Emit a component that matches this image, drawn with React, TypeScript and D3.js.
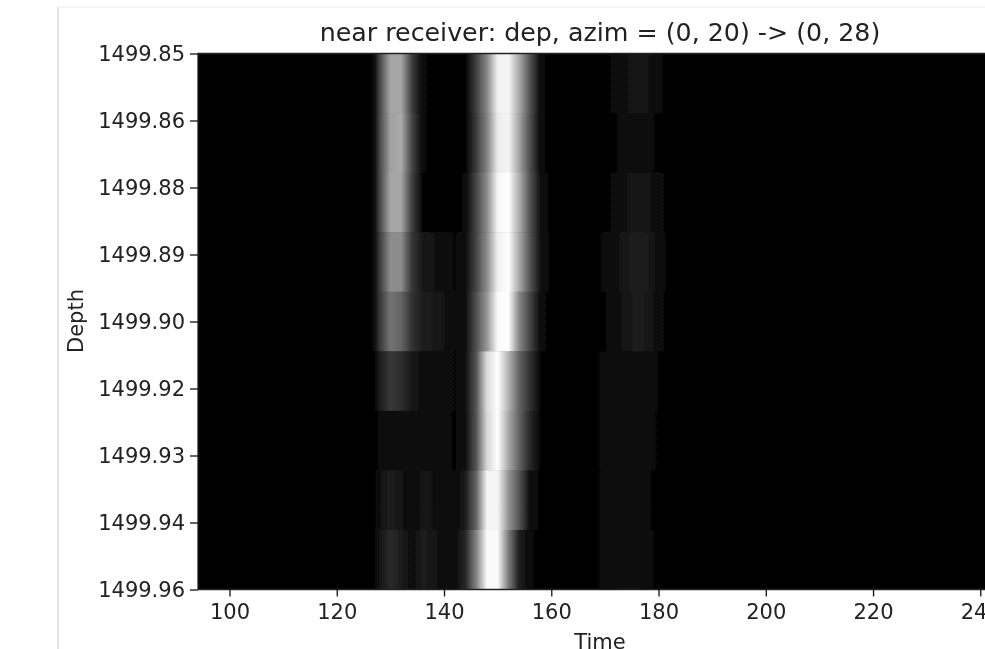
import React, { useEffect, useRef } from 'react'
import * as d3 from 'd3'

const titleText = 'near receiver: dep, azim = (0, 20) -> (0, 28)'
const depthLabels = ['1499.85', '1499.86', '1499.88', '1499.89', '1499.90', '1499.92', '1499.93', '1499.94', '1499.96']
const timeTicks = [100, 120, 140, 160, 180, 200, 220, 240]
const times = [124, 126, 127, 128, 130, 132, 134, 136, 138, 140, 142, 144, 146, 148, 150, 152, 154, 156, 158, 160, 162, 164, 166, 168, 170, 172, 174, 176, 178, 180, 182, 184]

// gray level of each depth row, one value per entry of times
const row0 = [0, 0, 10, 70, 165, 165, 65, 8, 4, 3, 2, 6, 65, 135, 240, 245, 170, 85, 10, 2, 1, 1, 1, 2, 4, 9, 17, 20, 18, 9, 2, 0]
const row1 = [0, 0, 10, 70, 160, 170, 70, 8, 3, 2, 2, 5, 60, 130, 235, 245, 165, 80, 10, 2, 1, 1, 1, 1, 3, 6, 9, 10, 9, 5, 1, 0]
const row2 = [0, 0, 10, 70, 165, 165, 65, 6, 2, 2, 3, 8, 70, 140, 245, 255, 175, 85, 15, 3, 1, 1, 1, 2, 4, 9, 17, 22, 20, 11, 2, 0]
const row3 = [0, 0, 10, 60, 140, 140, 55, 25, 18, 12, 6, 14, 70, 140, 240, 255, 170, 85, 18, 4, 2, 2, 2, 4, 8, 14, 24, 30, 26, 13, 3, 0]
const row4 = [0, 0, 10, 55, 115, 100, 50, 28, 25, 18, 8, 14, 80, 150, 250, 255, 135, 70, 10, 3, 2, 2, 2, 4, 6, 11, 22, 28, 24, 11, 2, 0]
const row5 = [0, 0, 5, 28, 55, 45, 25, 12, 10, 14, 6, 18, 85, 220, 255, 180, 100, 50, 6, 4, 4, 4, 4, 5, 8, 12, 16, 17, 14, 6, 1, 0]
const row6 = [0, 0, 3, 8, 10, 10, 15, 15, 14, 11, 5, 16, 85, 215, 255, 170, 100, 40, 5, 4, 4, 4, 4, 5, 8, 12, 16, 15, 11, 5, 1, 0]
const row7 = [0, 0, 4, 16, 30, 20, 8, 20, 17, 9, 8, 28, 100, 245, 245, 150, 85, 15, 4, 4, 4, 4, 4, 5, 8, 10, 13, 12, 8, 3, 1, 0]
const row8 = [0, 0, 5, 20, 42, 28, 12, 28, 22, 10, 10, 40, 130, 250, 250, 125, 30, 8, 4, 4, 4, 4, 4, 5, 8, 12, 16, 15, 10, 4, 1, 0]
const rows = [row0, row1, row2, row3, row4, row5, row6, row7, row8]

const left = 198
const top = 53.5
const bottom = 589.5
const fontFamily = '"DejaVu Sans"'

export default function App() {
  const root = useRef<SVGGElement>(null)

  // pixel scale
  const x = d3.scaleLinear().domain([100, 240]).range([229.5, 980.3])
  const yBand = d3.scaleBand<number>().domain(d3.range(rows.length)).range([top, bottom])
  const yTick = d3.scalePoint<string>().domain(depthLabels).range([top, bottom])
  const gray = (v: number) => d3.rgb(v, v, v).formatHex()
  const t0 = times[0]
  const tN = times[times.length - 1]

  useEffect(() => {
    const g = d3.select(root.current)
    g.selectAll('.axis').remove()

    const xAxis = g.append('g')
      .attr('class', 'axis')
      .attr('transform', `translate(0, ${bottom})`)
      .call(d3.axisBottom(x).tickValues(timeTicks).tickSize(7).tickPadding(8))
    const yAxis = g.append('g')
      .attr('class', 'axis')
      .attr('transform', `translate(${left}, 0)`)
      .call(d3.axisLeft(yTick).tickSize(8).tickPadding(5))

    xAxis.select('.domain').remove()
    yAxis.select('.domain').remove()
    g.selectAll('.axis text')
      .attr('font-family', fontFamily)
      .attr('font-size', 21)
      .attr('fill', '#222')
    g.selectAll('.axis line').attr('stroke', '#111').attr('stroke-width', 1.3)
  }, [])

  return (
    <svg width={985} height={649} style={{ position: 'fixed', left: 0, top: 0, background: '#fff' }}>
      <defs>
        <filter id="soft" filterUnits="userSpaceOnUse" x={0} y={0} width={985} height={649}>
          <feGaussianBlur stdDeviation={0.6} />
        </filter>
        {rows.map((row, i) => (
          <linearGradient key={i} id={`row-${i}`} gradientUnits="userSpaceOnUse" x1={x(t0)} x2={x(tN)} y1={0} y2={0}>
            {row.map((v, j) => (
              <stop key={j} offset={(times[j] - t0) / (tN - t0)} stopColor={gray(v)} />
            ))}
          </linearGradient>
        ))}
      </defs>
      <g ref={root} filter="url(#soft)">
        <rect x={0} y={0} width={985} height={649} fill="#fff" />
        {/* notebook frame */}
        <line x1={58} x2={58} y1={7} y2={649} stroke="#d8d8d8" strokeWidth={1.5} />
        <line x1={58} x2={985} y1={7} y2={7} stroke="#eeeeee" strokeWidth={1.2} />
        <rect x={left} y={top} width={985 - left} height={bottom - top} fill="#000" />
        {rows.map((_, i) => (
          <rect key={i} x={left} y={yBand(i)} width={985 - left} height={yBand.bandwidth() + 0.5} fill={`url(#row-${i})`} />
        ))}
        <path d={`M${left},${bottom} V${top} H985 M${left},${bottom} H985`} fill="none" stroke="#222" strokeWidth={1.3} />
        <text x={600} y={41} textAnchor="middle" fontFamily={fontFamily} fontSize={25.3} fill="#222">{titleText}</text>
        <text x={600} y={649} textAnchor="middle" fontFamily={fontFamily} fontSize={21} fill="#222">Time</text>
        <text transform="translate(83, 321) rotate(-90)" textAnchor="middle" fontFamily={fontFamily} fontSize={21} fill="#222">Depth</text>
      </g>
    </svg>
  )
}
